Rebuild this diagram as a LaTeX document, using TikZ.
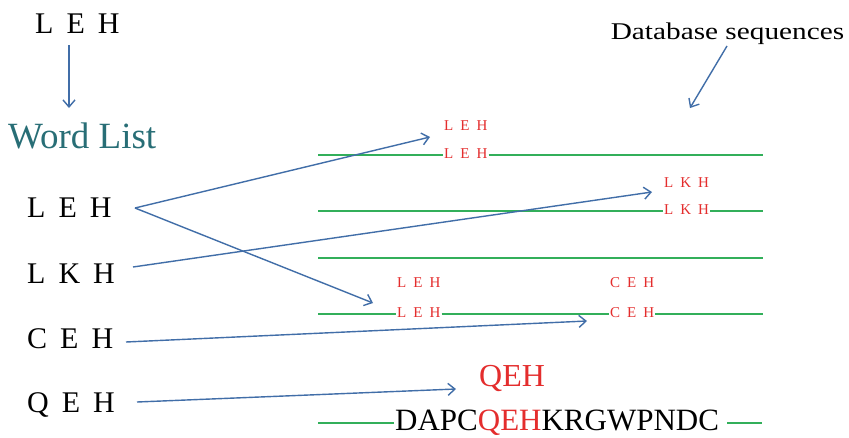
\documentclass[tikz,border=0pt]{standalone}
\usepackage{fontspec}
\setmainfont{Liberation Serif}
\usetikzlibrary{arrows.meta}
\definecolor{arrowblue}{RGB}{65,110,168}
\definecolor{seqgreen}{RGB}{50,175,90}
\definecolor{hitred}{RGB}{228,45,45}
\definecolor{wordteal}{RGB}{40,110,118}
\newcommand\lgap{\hspace{13pt}}
\newcommand\sgap{\hspace{7pt}}
\begin{document}
\begin{tikzpicture}[x=1pt,y=-1pt,
  bigtxt/.style={font=\fontsize{30}{32}\selectfont, inner sep=0pt, anchor=base west},
  hit/.style={font=\fontsize{15}{16}\selectfont, text=hitred, inner sep=1pt, anchor=base west},
  link/.style={draw=arrowblue, line width=1.4pt, -{Straight Barb[length=7pt,width=12pt]}},
  seq/.style={draw=seqgreen, line width=1.5pt}]
\useasboundingbox (0,0) rectangle (849,437);
\fill[white] (0,0) rectangle (849,437);

% query word and word list
\node[bigtxt] (query) at (35,33) {L\lgap E\lgap H};
\node[font=\fontsize{37}{40}\selectfont, text=wordteal, inner sep=0pt, anchor=base west] (wl) at (8,148) {Word List};
\coordinate (qdown) at (69,45);
\coordinate (wltop) at (69,108);
\draw[link] (qdown) -- (wltop);

\node[bigtxt] (w1) at (27,217) {L\lgap E\lgap H};
\node[bigtxt] (w2) at (27,283) {L\lgap K\lgap H};
\node[bigtxt] (w3) at (27,348) {C\lgap E\lgap H};
\node[bigtxt] (w4) at (27,412) {Q\lgap E\lgap H};

\coordinate (o1) at (135,208);
\coordinate (o2) at (133,267);
\coordinate (o3) at (126,342);
\coordinate (o4) at (137,402);

% database label
\node[font=\fontsize{24}{26}\selectfont, inner sep=0pt, anchor=base] (db) at (727.5,39) {\scalebox{1.22}[1]{Database sequences}};
\coordinate (dbfrom) at (727,46);
\coordinate (dbto) at (690,108);
\draw[link] (dbfrom) -- (dbto);

% sequence line 1
\node[hit] (h1a) at (443,130) {L\sgap E\sgap H};
\node[hit] (h1b) at (443,158) {L\sgap E\sgap H};
\coordinate (l1s) at (318,155);
\coordinate (l1e) at (763,155);
\draw[seq] (l1s) -- (l1s -| h1b.west);
\draw[seq] (l1s -| h1b.east) -- (l1e);

% sequence line 2
\node[hit] (h2a) at (663,187) {L\sgap K\sgap H};
\node[hit] (h2b) at (663,214) {L\sgap K\sgap H};
\coordinate (l2s) at (318,211);
\coordinate (l2e) at (763,211);
\draw[seq] (l2s) -- (l2s -| h2b.west);
\draw[seq] (l2s -| h2b.east) -- (l2e);

% sequence line 3
\coordinate (l3s) at (318,258);
\coordinate (l3e) at (763,258);
\draw[seq] (l3s) -- (l3e);

% sequence line 4
\node[hit] (h4a) at (396,287) {L\sgap E\sgap H};
\node[hit] (h4b) at (396,317) {L\sgap E\sgap H};
\node[hit] (h4c) at (609,287) {C\sgap E\sgap H};
\node[hit] (h4d) at (609,317) {C\sgap E\sgap H};
\coordinate (l4s) at (318,314);
\coordinate (l4e) at (763,314);
\draw[seq] (l4s) -- (l4s -| h4b.west);
\draw[seq] (l4s -| h4b.east) -- (l4s -| h4d.west);
\draw[seq] (l4s -| h4d.east) -- (l4e);

% sequence line 5
\node[font=\fontsize{32}{34}\selectfont, text=hitred, inner sep=0pt, anchor=base west] (qeh) at (479,386) {QEH};
\node[font=\fontsize{31}{33}\selectfont, inner sep=0pt, anchor=base west] (dapc) at (395,430) {DAPC\textcolor{hitred}{QEH}KRGWPNDC};
\coordinate (l5s) at (318,423);
\coordinate (l5e) at (762,423);
\draw[seq] (l5s) -- ([xshift=-1pt]l5s -| dapc.west);
\draw[seq] ([xshift=8pt]l5s -| dapc.east) -- (l5e);

% arrow targets
\coordinate (t1) at (430,137);
\coordinate (t2) at (373,303);
\coordinate (t3) at (652,192);
\coordinate (t4) at (587,321);
\coordinate (t5) at (456,389);

\draw[link] (o1) -- (t1);
\draw[link] (o1) -- (t2);
\draw[link] (o2) -- (t3);
\draw[link] (o3) -- (t4);
\draw[link] (o4) -- (t5);
\end{tikzpicture}
\end{document}
